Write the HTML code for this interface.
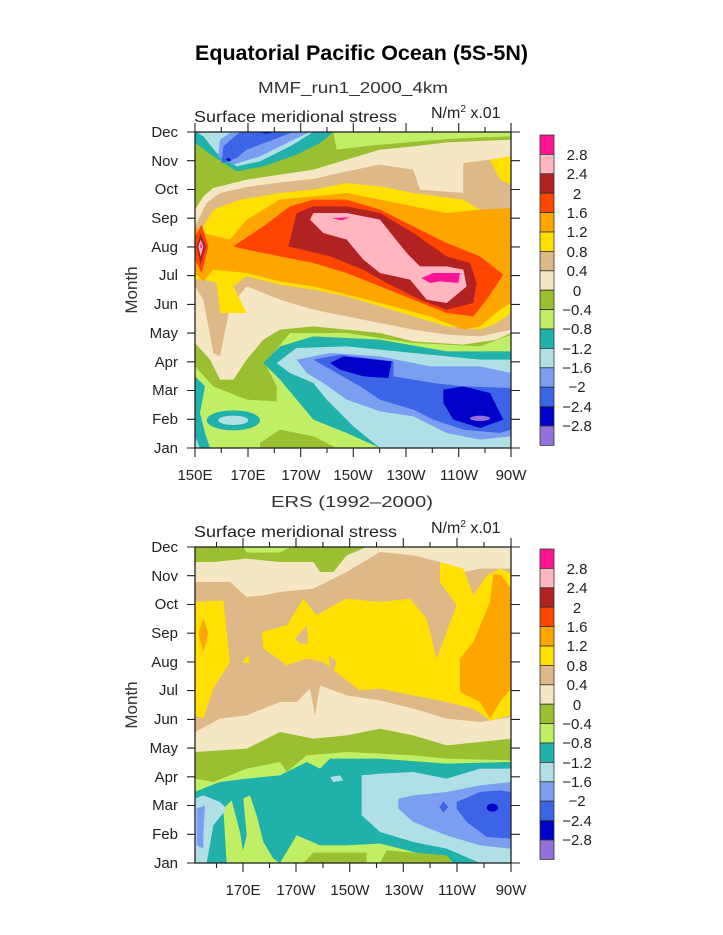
<!DOCTYPE html>
<html><head><meta charset="utf-8"><style>
html,body{margin:0;padding:0;background:#fff}
svg{display:block}
text{font-family:"Liberation Sans",sans-serif;fill:#222}
</style></head><body>
<svg width="723" height="935" viewBox="0 0 723 935" xmlns="http://www.w3.org/2000/svg">
<text x="195" y="60" textLength="333" lengthAdjust="spacingAndGlyphs" font-size="21" font-weight="bold" style="fill:#000">Equatorial Pacific Ocean (5S-5N)</text>
<text x="258" y="93" textLength="190" lengthAdjust="spacingAndGlyphs" font-size="16" style="fill:#333">MMF_run1_2000_4km</text>
<text x="271" y="507" textLength="162" lengthAdjust="spacingAndGlyphs" font-size="16" style="fill:#333">ERS (1992–2000)</text>

<defs><clipPath id="c1"><rect x="45" y="97" width="948" height="948"/></clipPath><clipPath id="c2"><rect x="45" y="95" width="948" height="948"/></clipPath></defs>
<g transform="translate(195,132) scale(0.33333) translate(-45,-97)" clip-path="url(#c1)">
<rect x="45" y="97" width="948" height="948" fill="#9ac031"/>
<polygon fill="#c0ee64" points="460,97 993,97 993,110 800,118 600,135 470,150"/>
<polygon fill="#20b2aa" points="45,97 460,97 420,130 350,165 250,200 170,215 100,170 45,130"/>
<polygon fill="#b0dfe5" points="50,97 400,97 330,140 240,185 170,200 110,160 70,110"/>
<polygon fill="#7b9ef0" points="150,100 390,97 330,125 240,170 160,195 115,170 120,120"/>
<polygon fill="#3c64e6" points="180,97 340,97 280,120 200,150 170,175 125,190 130,140"/>
<polygon fill="#0000c8" points="138,180 146,174 154,182 146,186"/>
<polygon fill="#0000c8" points="230,97 280,97 260,102"/>
<polygon fill="#f5e6c4" points="45,330 70,290 100,265 200,240 300,225 400,210 500,180 600,150 700,140 800,128 993,120 993,700 950,720 850,735 700,725 600,700 500,690 400,680 300,690 250,720 200,780 160,840 120,840 90,780 45,730"/>
<polygon fill="#deb887" points="45,380 80,310 120,280 200,262 300,248 400,238 500,215 600,195 700,210 720,270 850,280 850,190 930,180 993,170 993,690 900,710 800,705 700,690 600,670 500,650 400,630 300,600 200,560 150,620 120,770 100,760 70,600 45,560"/>
<polygon fill="#ffe000" points="930,180 993,170 993,255 960,240"/>
<polygon fill="#ffe000" points="45,420 100,330 180,300 300,280 400,270 500,250 600,260 700,280 850,300 900,330 993,330 993,640 950,670 900,690 800,680 700,650 600,620 500,590 400,570 300,555 200,530 160,560 200,640 120,640 110,550 70,540 45,540"/>
<polygon fill="#ffa500" points="45,380 70,400 150,420 200,360 300,300 400,290 500,280 600,300 700,320 800,340 900,330 993,325 993,610 960,630 900,680 850,690 750,650 600,610 500,585 400,560 300,545 200,520 100,510 70,545 45,520"/>
<polygon fill="#ff4500" points="65,375 85,440 65,520 45,480 45,410"/>
<polygon fill="#ff4500" points="160,440 250,380 330,320 400,300 500,300 600,330 700,380 800,430 900,470 970,525 920,600 880,650 800,640 700,600 600,560 500,520 400,490 300,470 200,450"/>
<polygon fill="#b22222" points="325,440 350,340 400,320 500,320 600,340 700,400 800,470 870,490 890,550 880,610 800,630 720,600 620,550 550,510 450,470"/>
<polygon fill="#b22222" points="62,400 78,440 62,495 50,440"/>
<polygon fill="#ffb6c1" points="390,360 400,340 500,340 600,360 640,410 680,460 720,500 800,500 850,510 860,560 800,610 740,600 690,540 600,520 550,480 500,420 430,400"/>
<polygon fill="#ffb6c1" points="55,440 62,420 70,440 62,470"/>
<polygon fill="#ff1493" points="455,355 510,353 485,362"/>
<polygon fill="#ff1493" points="725,535 760,520 840,520 835,550 780,545 750,550"/>
<polygon fill="#ff1493" points="60,440 63,432 66,440 63,448"/>
<polygon fill="#c0ee64" points="45,800 100,860 200,900 290,905 290,860 255,790 330,700 500,700 700,730 900,740 993,705 993,1045 470,1045 400,1010 300,990 240,1030 240,1045 45,1045"/>
<polygon fill="#20b2aa" points="45,830 75,860 60,940 75,1000 90,1045 45,1045"/>
<polygon fill="#20b2aa" points="250,790 300,740 400,710 600,720 800,755 993,755 993,1045 600,1045 500,1000 400,960 350,900 300,840"/>
<ellipse cx="160" cy="962" rx="80" ry="30" fill="#20b2aa"/>
<ellipse cx="160" cy="962" rx="45" ry="14" fill="#b0dfe5"/>
<polygon fill="#b0dfe5" points="45,1010 60,1045 45,1045"/>
<polygon fill="#b0dfe5" points="290,790 350,745 500,740 700,760 900,780 993,780 993,1045 600,1045 520,980 440,900 400,850 330,820"/>
<polygon fill="#7b9ef0" points="350,780 450,760 600,770 750,800 900,800 993,820 993,1010 900,1020 800,1000 700,950 600,935 500,900 430,850 380,820"/>
<polygon fill="#3c64e6" points="400,780 480,765 640,785 640,830 760,850 850,860 993,865 993,990 960,1000 850,990 760,960 700,930 600,900 540,860 470,820"/>
<polygon fill="#0000c8" points="450,790 490,770 635,785 625,835 550,830 480,810"/>
<polygon fill="#0000c8" points="790,870 850,860 930,880 970,960 900,985 820,960 790,910"/>
<ellipse cx="900" cy="956" rx="30" ry="8" fill="#9370db"/>
</g>

<g transform="translate(195,547) scale(0.33333) translate(-45,-95)" clip-path="url(#c2)">
<rect x="45" y="95" width="948" height="948" fill="#deb887"/>
<polygon fill="#f5e6c4" points="45,95 993,95 993,160 900,160 850,170 780,140 700,120 600,110 500,170 400,220 300,230 250,240 200,245 150,200 45,200"/>
<polygon fill="#9ac031" points="45,95 560,95 500,120 460,170 420,170 400,140 300,140 200,130 100,140 45,140"/>
<polygon fill="#c0ee64" points="190,95 330,95 300,112 200,112"/>
<polygon fill="#ffe000" points="45,260 130,255 150,440 100,520 70,610 45,600"/>
<polygon fill="#ffe000" points="245,350 320,330 370,250 410,300 460,270 500,250 600,260 690,250 740,310 770,430 800,350 830,270 780,200 780,140 850,160 880,240 920,180 960,160 993,175 993,600 930,615 880,580 800,560 700,540 600,520 540,525 480,480 430,440 380,430 350,440 320,450 280,420 250,400"/>
<polygon fill="#deb887" points="345,370 380,330 385,385 360,385"/>
<polygon fill="#deb887" points="445,420 470,440 455,480"/>
<polygon fill="#ffe000" points="185,440 205,420 210,445"/>
<polygon fill="#ffa500" points="70,310 85,355 70,410 55,355"/>
<polygon fill="#ffa500" points="940,175 965,180 993,220 993,520 960,560 930,610 900,560 840,530 840,430 880,380 930,260"/>
<polygon fill="#f5e6c4" points="45,650 120,610 200,600 300,560 350,560 390,520 405,600 420,510 500,540 600,555 700,580 800,610 900,620 993,605 993,1043 45,1043"/>
<polygon fill="#9ac031" points="45,710 200,700 300,650 400,670 500,660 600,640 700,660 800,690 900,680 993,670 993,1043 45,1043"/>
<polygon fill="#c0ee64" points="45,790 100,800 200,760 300,740 320,770 380,720 500,710 600,715 700,720 800,730 993,735 993,1043 45,1043"/>
<polygon fill="#20b2aa" points="45,830 80,815 120,800 200,790 300,780 380,740 420,760 450,730 600,730 800,745 993,740 993,1043 820,1043 700,1010 600,985 500,990 420,990 350,960 300,1043 280,1030 250,980 230,900 210,840 190,850 200,960 180,1043 45,1043"/>
<polygon fill="#c0ee64" points="130,880 155,855 180,950 195,1043 140,1043"/>
<polygon fill="#c0ee64" points="300,1043 350,960 420,990 500,990 600,985 700,1010 820,1043"/>
<polygon fill="#9ac031" points="370,1043 400,1012 560,1012 560,1043"/>
<polygon fill="#9ac031" points="600,1043 620,1005 800,1020 820,1043"/>
<polygon fill="#b0dfe5" points="545,780 600,775 700,770 800,790 900,760 993,760 993,1043 900,1043 800,1000 700,980 600,950 545,900"/>
<polygon fill="#b0dfe5" points="45,850 70,840 120,860 140,880 100,930 80,1043 45,1043"/>
<polygon fill="#b0dfe5" points="450,785 480,780 490,795 460,800"/>
<polygon fill="#7b9ef0" points="655,850 700,840 800,830 900,810 993,800 993,1000 900,990 800,960 700,920 655,880"/>
<polygon fill="#7b9ef0" points="50,880 75,870 70,960 70,1000 50,990"/>
<polygon fill="#3c64e6" points="830,860 900,830 960,825 993,830 993,970 920,965 860,920 830,880"/>
<polygon fill="#3c64e6" points="778,875 790,858 805,875 790,892"/>
<ellipse cx="937" cy="877" rx="17" ry="12" fill="#0000c8"/>
</g>

<g stroke="#222" stroke-width="1.3" fill="none">
<rect x="195" y="132" width="316" height="316"/>
<rect x="195" y="547" width="316" height="316"/>
</g>
<g stroke="#222" stroke-width="1.1">
<path d="M187,132H195M187,160.7H195M187,189.5H195M187,218.2H195M187,246.9H195M187,275.6H195M187,304.4H195M187,333.1H195M187,361.8H195M187,390.5H195M187,419.3H195M187,448H195"/>
<path d="M511,132H520M511,160.7H520M511,189.5H520M511,218.2H520M511,246.9H520M511,275.6H520M511,304.4H520M511,333.1H520M511,361.8H520M511,390.5H520M511,419.3H520M511,448H520"/>
<path d="M195,123V132M248,123V132M300.7,123V132M353.3,123V132M406,123V132M458.7,123V132M511,123V132"/>
<path d="M221.3,127V132M274.3,127V132M327,127V132M379.7,127V132M432.3,127V132M485,127V132"/>
<path d="M195,448V457M248,448V457M300.7,448V457M353.3,448V457M406,448V457M458.7,448V457M511,448V457"/>
<path d="M221.3,448V453M274.3,448V453M327,448V453M379.7,448V453M432.3,448V453M485,448V453"/>
<path d="M187,547H195M187,575.7H195M187,604.5H195M187,633.2H195M187,661.9H195M187,690.6H195M187,719.4H195M187,748.1H195M187,776.8H195M187,805.5H195M187,834.3H195M187,863H195"/>
<path d="M511,547H520M511,575.7H520M511,604.5H520M511,633.2H520M511,661.9H520M511,690.6H520M511,719.4H520M511,748.1H520M511,776.8H520M511,805.5H520M511,834.3H520M511,863H520"/>
<path d="M243,538V547M296,538V547M349.7,538V547M403.3,538V547M457,538V547M511,538V547"/>
<path d="M216.5,542V547M269.5,542V547M323,542V547M376.5,542V547M430,542V547M484,542V547"/>
<path d="M243,863V872M296,863V872M349.7,863V872M403.3,863V872M457,863V872M511,863V872"/>
<path d="M216.5,863V868M269.5,863V868M323,863V868M376.5,863V868M430,863V868M484,863V868"/>
</g>

<g font-size="16">
<text x="194" y="122" textLength="203" lengthAdjust="spacingAndGlyphs">Surface meridional stress</text>
<text x="431" y="118">N/m<tspan font-size="10" dy="-6">2</tspan><tspan dy="6"> x.01</tspan></text>
<text x="194" y="537" textLength="203" lengthAdjust="spacingAndGlyphs">Surface meridional stress</text>
<text x="431" y="533">N/m<tspan font-size="10" dy="-6">2</tspan><tspan dy="6"> x.01</tspan></text>
</g>
<g font-size="15" text-anchor="end">
<text x="178" y="137">Dec</text><text x="178" y="166">Nov</text><text x="178" y="194">Oct</text><text x="178" y="223">Sep</text><text x="178" y="252">Aug</text><text x="178" y="280">Jul</text><text x="178" y="309">Jun</text><text x="178" y="338">May</text><text x="178" y="367">Apr</text><text x="178" y="395">Mar</text><text x="178" y="424">Feb</text><text x="178" y="453">Jan</text>
<text x="178" y="552">Dec</text><text x="178" y="581">Nov</text><text x="178" y="609">Oct</text><text x="178" y="638">Sep</text><text x="178" y="667">Aug</text><text x="178" y="695">Jul</text><text x="178" y="724">Jun</text><text x="178" y="753">May</text><text x="178" y="782">Apr</text><text x="178" y="810">Mar</text><text x="178" y="839">Feb</text><text x="178" y="868">Jan</text>
</g>
<g font-size="15" text-anchor="middle">
<text x="195" y="480">150E</text><text x="248" y="480">170E</text><text x="301" y="480">170W</text><text x="353" y="480">150W</text><text x="406" y="480">130W</text><text x="459" y="480">110W</text><text x="511" y="480">90W</text>
<text x="243" y="895">170E</text><text x="296" y="895">170W</text><text x="350" y="895">150W</text><text x="404" y="895">130W</text><text x="457" y="895">110W</text><text x="511" y="895">90W</text>
</g>
<text transform="translate(137,290) rotate(-90)" font-size="17" text-anchor="middle" style="fill:#333">Month</text>
<text transform="translate(137,705) rotate(-90)" font-size="17" text-anchor="middle" style="fill:#333">Month</text>

<g stroke="#333" stroke-width="0.8">
<g id="cb">
<rect x="540" y="135" width="14" height="19.4" fill="#ff1493"/>
<rect x="540" y="154.4" width="14" height="19.4" fill="#ffb6c1"/>
<rect x="540" y="173.8" width="14" height="19.4" fill="#b22222"/>
<rect x="540" y="193.2" width="14" height="19.4" fill="#ff4500"/>
<rect x="540" y="212.6" width="14" height="19.4" fill="#ffa500"/>
<rect x="540" y="232" width="14" height="19.4" fill="#ffe000"/>
<rect x="540" y="251.4" width="14" height="19.4" fill="#deb887"/>
<rect x="540" y="270.8" width="14" height="19.4" fill="#f5e6c4"/>
<rect x="540" y="290.2" width="14" height="19.4" fill="#9ac031"/>
<rect x="540" y="309.6" width="14" height="19.4" fill="#c0ee64"/>
<rect x="540" y="329" width="14" height="19.4" fill="#20b2aa"/>
<rect x="540" y="348.4" width="14" height="19.4" fill="#b0dfe5"/>
<rect x="540" y="367.8" width="14" height="19.4" fill="#7b9ef0"/>
<rect x="540" y="387.2" width="14" height="19.4" fill="#3c64e6"/>
<rect x="540" y="406.6" width="14" height="19.4" fill="#0000c8"/>
<rect x="540" y="426" width="14" height="19.4" fill="#9370db"/>
</g>
<use href="#cb" transform="translate(0,414)"/>
</g>
<g font-size="15" text-anchor="middle">
<text x="577" y="160">2.8</text><text x="577" y="179">2.4</text><text x="577" y="199">2</text><text x="577" y="218">1.6</text><text x="577" y="237">1.2</text><text x="577" y="257">0.8</text><text x="577" y="276">0.4</text><text x="577" y="296">0</text><text x="577" y="315">−0.4</text><text x="577" y="334">−0.8</text><text x="577" y="354">−1.2</text><text x="577" y="373">−1.6</text><text x="577" y="392">−2</text><text x="577" y="412">−2.4</text><text x="577" y="431">−2.8</text>
</g>
<g font-size="15" text-anchor="middle">
<text x="577" y="574">2.8</text><text x="577" y="593">2.4</text><text x="577" y="613">2</text><text x="577" y="632">1.6</text><text x="577" y="651">1.2</text><text x="577" y="671">0.8</text><text x="577" y="690">0.4</text><text x="577" y="710">0</text><text x="577" y="729">−0.4</text><text x="577" y="748">−0.8</text><text x="577" y="768">−1.2</text><text x="577" y="787">−1.6</text><text x="577" y="806">−2</text><text x="577" y="826">−2.4</text><text x="577" y="845">−2.8</text>
</g>
</svg>
</body></html>
